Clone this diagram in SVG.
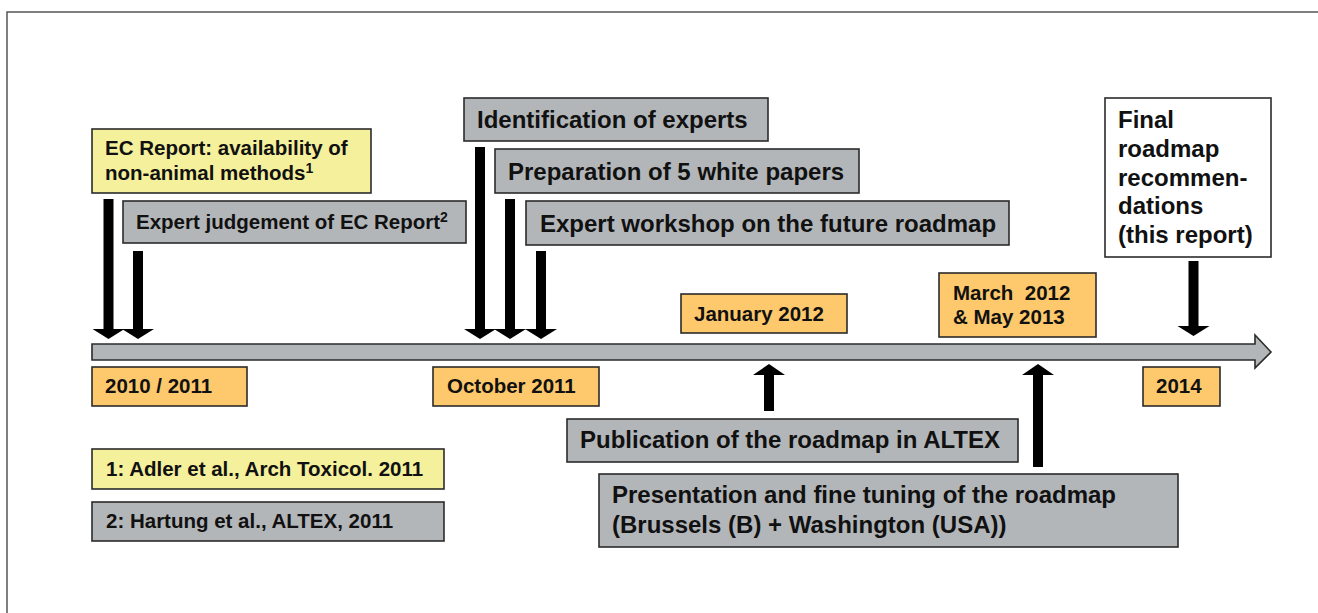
<svg xmlns="http://www.w3.org/2000/svg" width="1318" height="613" viewBox="0 0 1318 613">
<style>
text{font-family:"Liberation Sans",Arial,Helvetica,sans-serif;font-weight:bold;fill:#111}
.box{stroke:#2b2b2b;stroke-width:1.6}
.gray{fill:#b3b6b9}
.yel{fill:#f4f09b}
.org{fill:#fec96c}
.wht{fill:#fff}
.big{font-size:24px}
.mid{font-size:20.5px}
.arr{fill:#000}
.sup{font-size:14px}
</style>
<rect width="1318" height="613" fill="#fff"/>
<path d="M7,613 V12 H1318" fill="none" stroke="#555" stroke-width="1.5"/>

<g id="connectors">
  <path id="timeline" d="M92,344 H1255 V335 L1271,352 L1255,368 V360 H92 Z" fill="#b3b6b9" stroke="#2b2b2b" stroke-width="1.6"/>
  <path class="arr" d="M103.5,199 h10 v130 h11 l-16,10 l-16,-10 h11 Z"/>
  <path class="arr" d="M133,251 h10 v78 h11 l-16,10 l-16,-10 h11 Z"/>
  <path class="arr" d="M475,147 h10 v182 h11 l-16,10 l-16,-10 h11 Z"/>
  <path class="arr" d="M505,199 h10 v130 h11 l-16,10 l-16,-10 h11 Z"/>
  <path class="arr" d="M536,251 h10 v78 h11 l-16,10 l-16,-10 h11 Z"/>
  <path class="arr" d="M1188.5,261 h10 v65 h11 l-16,10 l-16,-10 h11 Z"/>
  <path class="arr" d="M764,411 h10 v-36 h11 l-16,-11 l-16,11 h11 Z"/>
  <path class="arr" d="M1033,467 h10 v-92 h11 l-16,-11 l-16,11 h11 Z"/>
</g>

<g id="ec-report">
  <rect class="box yel" x="92" y="129" width="279" height="64"/>
  <text class="mid" x="105" y="155">EC Report: availability of</text>
  <text class="mid" x="105" y="180">non-animal methods<tspan class="sup" dy="-7">1</tspan></text>
</g>
<g id="expert-judgement">
  <rect class="box gray" x="123" y="201" width="343" height="42"/>
  <text class="mid" x="136" y="229">Expert judgement of EC Report<tspan class="sup" dy="-7">2</tspan></text>
</g>
<g id="identification">
  <rect class="box gray" x="464" y="98" width="304" height="43"/>
  <text class="big" x="477" y="128">Identification of experts</text>
</g>
<g id="preparation">
  <rect class="box gray" x="495" y="149" width="364" height="44"/>
  <text class="big" x="508" y="180">Preparation of 5 white papers</text>
</g>
<g id="workshop">
  <rect class="box gray" x="526" y="201" width="483" height="44"/>
  <text class="big" x="540" y="232">Expert workshop on the future roadmap</text>
</g>
<g id="final">
  <rect class="box wht" x="1105" y="98" width="166" height="159"/>
  <text class="big" x="1118" y="128">Final</text>
  <text class="big" x="1118" y="157">roadmap</text>
  <text class="big" x="1118" y="186">recommen-</text>
  <text class="big" x="1118" y="214">dations</text>
  <text class="big" x="1118" y="243">(this report)</text>
</g>
<g id="jan2012">
  <rect class="box org" x="681" y="294" width="166" height="39"/>
  <text class="mid" x="694" y="321">January 2012</text>
</g>
<g id="mar2012">
  <rect class="box org" x="939" y="273" width="157" height="64"/>
  <text class="mid" x="953" y="300" xml:space="preserve">March  2012</text>
  <text class="mid" x="953" y="324">&amp; May 2013</text>
</g>
<g id="y2010">
  <rect class="box org" x="92" y="367" width="155" height="39"/>
  <text class="mid" x="105" y="393">2010 / 2011</text>
</g>
<g id="oct2011">
  <rect class="box org" x="433" y="367" width="166" height="39"/>
  <text class="mid" x="447" y="393">October 2011</text>
</g>
<g id="y2014">
  <rect class="box org" x="1143" y="367" width="77" height="39"/>
  <text class="mid" x="1156" y="393">2014</text>
</g>
<g id="publication">
  <rect class="box gray" x="567" y="419" width="451" height="43"/>
  <text class="big" x="580" y="448">Publication of the roadmap in ALTEX</text>
</g>
<g id="presentation">
  <rect class="box gray" x="599" y="474" width="579" height="73"/>
  <text class="big" x="612" y="503">Presentation and fine tuning of the roadmap</text>
  <text class="big" x="612" y="533">(Brussels (B) + Washington (USA))</text>
</g>
<g id="ref1">
  <rect class="box yel" x="92" y="449" width="352" height="40"/>
  <text class="mid" x="106" y="476">1: Adler et al., Arch Toxicol. 2011</text>
</g>
<g id="ref2">
  <rect class="box gray" x="92" y="502" width="352" height="39"/>
  <text class="mid" x="106" y="528">2: Hartung et al., ALTEX, 2011</text>
</g>
</svg>
